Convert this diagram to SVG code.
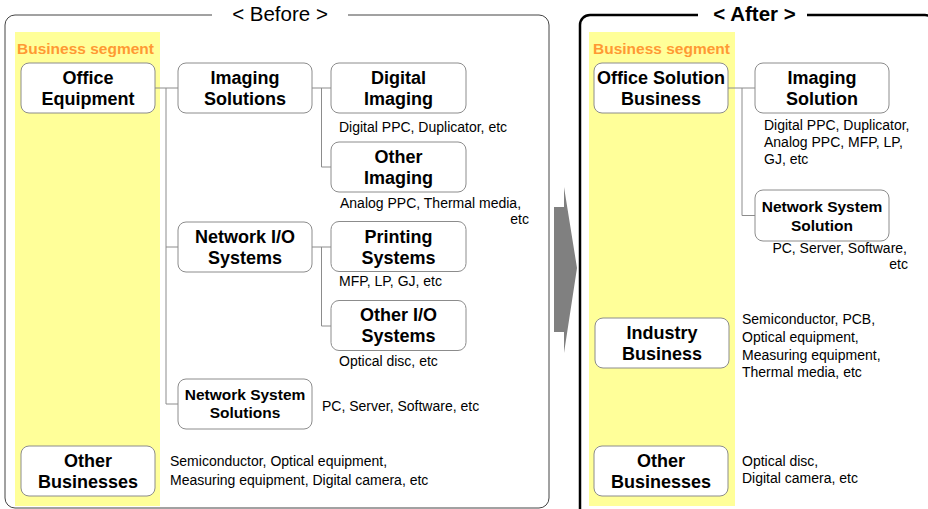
<svg xmlns="http://www.w3.org/2000/svg" width="928" height="509" viewBox="0 0 928 509">
<style>
.bg{fill:#ffffff}
.band{fill:#FFFF99}
.box{fill:#ffffff;stroke:#8c8c8c;stroke-width:1}
.t{font-family:"Liberation Sans",Arial,sans-serif;font-weight:bold;font-size:18px;fill:#000;text-anchor:middle}
.ts{font-family:"Liberation Sans",Arial,sans-serif;font-weight:bold;font-size:15.5px;fill:#000;text-anchor:middle}
.d{font-family:"Liberation Sans",Arial,sans-serif;font-size:14px;fill:#000}
.dr{font-family:"Liberation Sans",Arial,sans-serif;font-size:14px;fill:#000;text-anchor:end}
.seg{font-family:"Liberation Sans",Arial,sans-serif;font-weight:bold;font-size:15.5px;fill:#FF9933}
.conn{fill:none;stroke:#8c8c8c;stroke-width:1}
</style>
<rect class="bg" x="0" y="0" width="928" height="509"/>

<g id="before-frame">
<path d="M212,15 H15 A10,10 0 0 0 5,25 V498 A10,10 0 0 0 15,508 H539 A10,10 0 0 0 549,498 V25 A10,10 0 0 0 539,15 H348" fill="none" stroke="#444" stroke-width="1"/>
<text x="280" y="21" font-family="Liberation Sans, Arial, sans-serif" font-size="20.5" text-anchor="middle" fill="#000">&lt; Before &gt;</text>
</g>

<g id="after-frame">
<path d="M698,15 H590 A10,10 0 0 0 580,25 V530 M807,15 H925 A10,10 0 0 1 935,25 V530" fill="none" stroke="#000" stroke-width="2.5"/>
<text x="754.5" y="21" font-family="Liberation Sans, Arial, sans-serif" font-size="20.5" font-weight="bold" text-anchor="middle" fill="#000">&lt; After &gt;</text>
</g>

<g id="bands">
<rect class="band" x="15" y="32" width="145" height="474"/>
<rect class="band" x="589" y="32" width="146" height="474"/>
<text class="seg" x="17" y="54">Business segment</text>
<text class="seg" x="593" y="54">Business segment</text>
</g>

<g id="arrow">
<polygon points="554,207 564,207 564,187 577,268 564,353 564,332 554,332" fill="#808080"/>
</g>

<g id="connectors">
<path class="conn" d="M155,88 H178 M166,88 V404 M166,247 H178 M166,404 H178"/>
<path class="conn" d="M312,88 H331 M321.5,88 V167 H331"/>
<path class="conn" d="M312,247 H331 M321.5,247 V326 H331"/>
<path class="conn" d="M728,88 H755 M742,88 V215.5 H755"/>
</g>

<g id="office-equipment">
<rect class="box" x="21" y="63" width="134" height="50" rx="8"/>
<text class="t" x="88" y="84">Office</text>
<text class="t" x="88" y="105">Equipment</text>
</g>

<g id="imaging-solutions">
<rect class="box" x="178" y="63" width="134" height="50" rx="8"/>
<text class="t" x="245" y="84">Imaging</text>
<text class="t" x="245" y="105">Solutions</text>
</g>

<g id="digital-imaging">
<rect class="box" x="331" y="63" width="135" height="50" rx="8"/>
<text class="t" x="398.5" y="84">Digital</text>
<text class="t" x="398.5" y="105">Imaging</text>
<text class="d" x="339" y="132">Digital PPC, Duplicator, etc</text>
</g>

<g id="other-imaging">
<rect class="box" x="331" y="142" width="135" height="50" rx="8"/>
<text class="t" x="398.5" y="163">Other</text>
<text class="t" x="398.5" y="184">Imaging</text>
<text class="d" x="340" y="208">Analog PPC, Thermal media,</text>
<text class="dr" x="529" y="224">etc</text>
</g>

<g id="network-io">
<rect class="box" x="178" y="222" width="134" height="50" rx="8"/>
<text class="t" x="245" y="243">Network I/O</text>
<text class="t" x="245" y="264">Systems</text>
</g>

<g id="printing-systems">
<rect class="box" x="331" y="221.5" width="135" height="50" rx="8"/>
<text class="t" x="398.5" y="243">Printing</text>
<text class="t" x="398.5" y="264">Systems</text>
<text class="d" x="339" y="286">MFP, LP, GJ, etc</text>
</g>

<g id="other-io">
<rect class="box" x="331" y="300.5" width="135" height="50" rx="8"/>
<text class="t" x="398.5" y="321">Other I/O</text>
<text class="t" x="398.5" y="342">Systems</text>
<text class="d" x="339" y="366">Optical disc, etc</text>
</g>

<g id="network-system-solutions">
<rect class="box" x="178" y="379" width="134" height="50" rx="8"/>
<text class="ts" x="245" y="400">Network System</text>
<text class="ts" x="245" y="418">Solutions</text>
<text class="d" x="322" y="411">PC, Server, Software, etc</text>
</g>

<g id="other-businesses-before">
<rect class="box" x="21" y="446" width="134" height="50" rx="8"/>
<text class="t" x="88" y="467">Other</text>
<text class="t" x="88" y="488">Businesses</text>
<text class="d" x="170" y="466">Semiconductor, Optical equipment,</text>
<text class="d" x="170" y="485">Measuring equipment, Digital camera, etc</text>
</g>

<g id="office-solution-business">
<rect class="box" x="594" y="63" width="134" height="50" rx="8"/>
<text class="t" x="661" y="84">Office Solution</text>
<text class="t" x="661" y="105">Business</text>
</g>

<g id="imaging-solution">
<rect class="box" x="755" y="63" width="134" height="50" rx="8"/>
<text class="t" x="822" y="84">Imaging</text>
<text class="t" x="822" y="105">Solution</text>
<text class="d" x="764" y="130">Digital PPC, Duplicator,</text>
<text class="d" x="764" y="147">Analog PPC, MFP, LP,</text>
<text class="d" x="764" y="164">GJ, etc</text>
</g>

<g id="network-system-solution">
<rect class="box" x="755" y="190" width="134" height="51" rx="8"/>
<text class="ts" x="822" y="212">Network System</text>
<text class="ts" x="822" y="231">Solution</text>
<text class="dr" x="907" y="253">PC, Server, Software,</text>
<text class="dr" x="908" y="269">etc</text>
</g>

<g id="industry-business">
<rect class="box" x="595" y="318" width="134" height="50" rx="8"/>
<text class="t" x="662" y="339">Industry</text>
<text class="t" x="662" y="360">Business</text>
<text class="d" x="742" y="324">Semiconductor, PCB,</text>
<text class="d" x="742" y="342">Optical equipment,</text>
<text class="d" x="742" y="360">Measuring equipment,</text>
<text class="d" x="742" y="377">Thermal media, etc</text>
</g>

<g id="other-businesses-after">
<rect class="box" x="594" y="446" width="134" height="50" rx="8"/>
<text class="t" x="661" y="467">Other</text>
<text class="t" x="661" y="488">Businesses</text>
<text class="d" x="742" y="466">Optical disc,</text>
<text class="d" x="742" y="483">Digital camera, etc</text>
</g>
</svg>
